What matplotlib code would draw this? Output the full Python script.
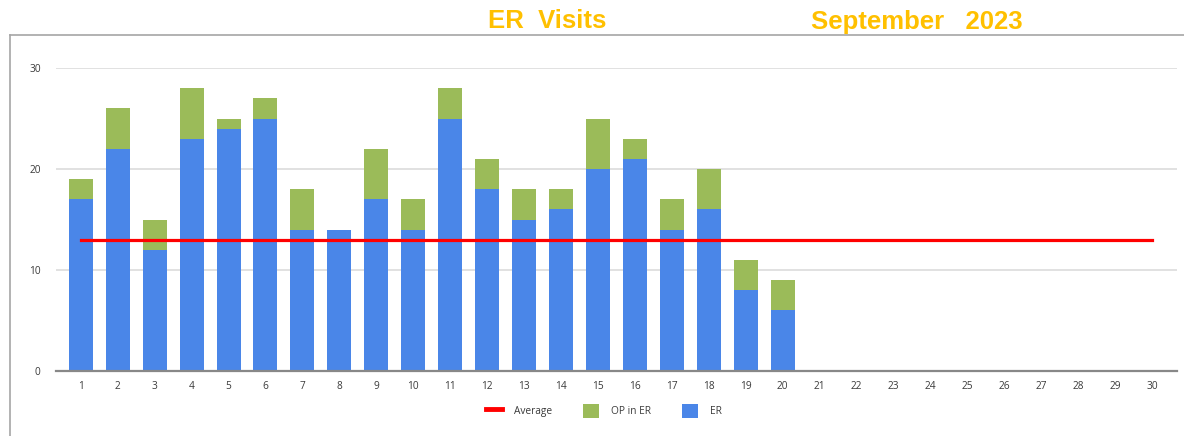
import matplotlib
matplotlib.use("Agg")
import matplotlib.pyplot as plt
import numpy as np
from matplotlib.lines import Line2D
from matplotlib.patches import Patch

days = list(range(1, 31))
er = [17, 22, 12, 23, 24, 25, 14, 14, 17, 14, 25, 18, 15, 16, 20, 21, 14, 16, 8, 6]
op_in_er = [2, 4, 3, 5, 1, 2, 4, 0, 5, 3, 3, 3, 3, 2, 5, 2, 3, 4, 3, 3]
average = 13
y_ticks = [0, 10, 20, 30]

blue = "#4a86e8"
green = "#9bbb59"
red = "#ff0000"
title_col = "#ffc000"

plt.rcParams["font.family"] = ["Open Sans", "DejaVu Sans"]

fig = plt.figure(figsize=(11.84, 4.36), dpi=100)
ax = fig.add_axes([0.0473, 0.149, 0.9467, 0.695])

x = np.arange(1, len(er) + 1)
ax.bar(x, er, width=0.65, color=blue, zorder=2)
ax.bar(x, op_in_er, width=0.65, bottom=er, color=green, zorder=2)
ax.plot([days[0], days[-1]], [average, average], color=red, lw=2.3, zorder=3)

ax.set_xlim(0.33, 30.67)
ax.set_ylim(0, 30)
ax.set_xticks(days)
ax.set_xticklabels([str(d) for d in days])
ax.set_yticks(y_ticks)
ax.tick_params(axis="both", length=0, labelsize=7.3, colors="#3a3a3a")
ax.tick_params(axis="y", pad=11)
ax.tick_params(axis="x", pad=7)
ax.grid(axis="y", color="#dcdcdc", lw=1.2, zorder=0)
for s in ["top", "right", "left"]:
    ax.spines[s].set_visible(False)
ax.spines["bottom"].set_color("#888888")
ax.spines["bottom"].set_linewidth(1.6)
ax.spines["bottom"].set_zorder(4)

# outer frame (left and top edges only visible)
fig.add_artist(Line2D([10 / 1184, 10 / 1184], [0, 1 - 35 / 436],
                      transform=fig.transFigure, color="#a6a6a6", lw=1.2))
fig.add_artist(Line2D([10 / 1184, 1], [1 - 35 / 436, 1 - 35 / 436],
                      transform=fig.transFigure, color="#a6a6a6", lw=1.2))

fig.text(547 / 1184, 1 - 21.5 / 436, "ER  Visits", ha="center", va="center",
         fontsize=18.5, fontweight="bold", color=title_col, family="Liberation Sans")
fig.text(917 / 1184, 1 - 21.5 / 436, "September   2023", ha="center", va="center",
         fontsize=18.5, fontweight="bold", color=title_col, family="Liberation Sans")

handles = [Line2D([0], [0], color=red, lw=3.5),
           Patch(facecolor=green), Patch(facecolor=blue)]
fig.legend(handles, ["Average", "OP in ER", "ER"], loc="center",
           bbox_to_anchor=(604 / 1184, 25 / 436), ncol=3, frameon=False,
           fontsize=7.3, labelcolor="#3a3a3a", handlelength=1.6, handleheight=1.6,
           columnspacing=3.0, handletextpad=1.2)

fig.savefig("out.png", dpi=100)
